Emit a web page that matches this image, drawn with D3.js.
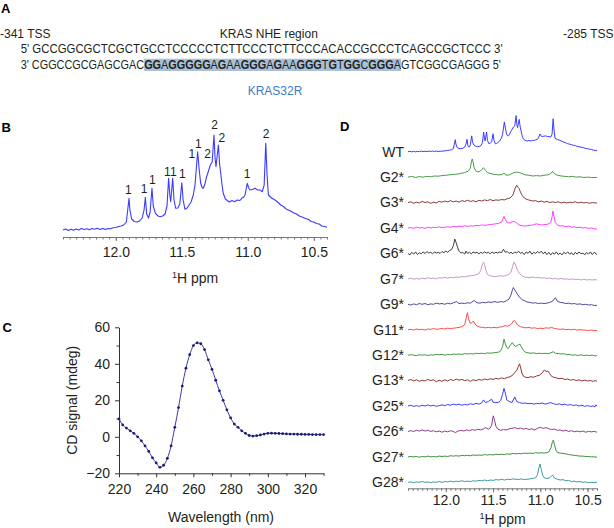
<!DOCTYPE html>
<html><head><meta charset="utf-8">
<script src="https://cdn.jsdelivr.net/npm/d3@7"></script>
<style>body{margin:0;background:#fff}svg{display:block}</style>
</head><body>
<script>
// ---------------- DATA ----------------
const seqTop = "GCCGGCGCTCGCTGCCTCCCCCTCTTCCCTCTTCCCACACCGCCCTCAGCCGCTCCC";
const seqBottom = "CGGCCGCGAGCGACGGAGGGGGAGAAGGGAGAAGGGTGTGGCGGGAGTCGGCGAGGG";
const probeStart = 14, probeLen = 32;
const headerLeft = "-341 TSS", headerMid = "KRAS NHE region", headerRight = "-285 TSS";
const probeName = "KRAS32R";

// Panel B: WT imino spectrum [ppm, intensity]
const wtSpectrum = [[12.40,0],[12.38,1],[12.36,-0.5],[12.34,0.8],[12.32,-0.3],[12.30,1],[12.28,0],[12.26,1.5],[12.24,0.5],[12.22,1.2],[12.20,0.3],[12.18,1.5],[12.16,0.8],[12.14,1.8],[12.12,0.6],[12.10,1.6],[12.08,0.4],[12.06,1.5],[12.04,1.2],[12.02,2.2],[12.00,2.5],[11.98,3.5],[11.96,4],[11.94,5],[11.92,8],[11.90,31.7],[11.893,20],[11.88,11],[11.86,8.5],[11.84,8],[11.82,9],[11.80,12],[11.786,20],[11.776,32.7],[11.766,16],[11.752,12],[11.74,18],[11.726,41.7],[11.716,24],[11.70,16.7],[11.68,14],[11.665,13.3],[11.645,14],[11.627,16],[11.612,24],[11.60,51.7],[11.59,34],[11.584,28.3],[11.569,51.7],[11.559,30],[11.546,21.7],[11.53,22],[11.515,26],[11.50,47.3],[11.49,30],[11.476,20.7],[11.46,22],[11.45,24],[11.43,28],[11.413,35],[11.40,45],[11.38,78.3],[11.368,60],[11.357,46.7],[11.345,42],[11.337,41.7],[11.325,46],[11.312,53.3],[11.30,58],[11.284,65],[11.27,68],[11.256,95],[11.248,72],[11.241,63.3],[11.223,85],[11.213,65],[11.205,56.7],[11.195,45],[11.186,36.7],[11.17,31],[11.16,30],[11.14,28],[11.12,29.5],[11.10,28.3],[11.08,30],[11.06,29.5],[11.046,31.7],[11.03,33],[11.021,35],[11.004,46.7],[10.993,42],[10.983,40],[10.965,40.5],[10.945,41.7],[10.925,40],[10.908,40],[10.89,38.3],[10.876,45],[10.864,86.7],[10.854,55],[10.844,35],[10.82,32],[10.794,30],[10.77,27.5],[10.75,25],[10.73,23.5],[10.71,21],[10.693,20],[10.67,18.5],[10.65,17],[10.63,16],[10.61,14],[10.59,13],[10.567,11.7],[10.54,10.5],[10.52,8.5],[10.50,8],[10.48,6.5],[10.46,6],[10.44,4],[10.42,3.5],[10.40,2.7]];

const bPeakLabels = ["1","1","1","1","1","1","1","1","2","2","2","1","2"];
const bPeakLabelPpm = [11.905,11.786,11.723,11.61,11.564,11.495,11.424,11.374,11.305,11.252,11.196,11.005,10.862];
const bPeakLabelLevel = [40,41,50,58.3,58.3,56,76,86.7,76,105,92.7,56.7,96];
const ppmTicks = [12.0, 11.5, 11.0, 10.5];

// Panel C: CD spectrum
const cdWavelength = [220,222,224,226,228,230,232,234,236,238,240,242,244,246,248,250,252,254,256,258,260,262,264,266,268,270,272,274,276,278,280,282,284,286,288,290,292,294,296,298,300,302,304,306,308,310,312,314,316,318,320,322,324,326,328,330];
const cdSignal = [9.8,6.5,4.8,3.3,1.9,0,-2.2,-5,-8,-11.5,-14.3,-16.7,-15.6,-11.8,-5,5.2,16,27.8,37.6,45,50,51.5,51,47.8,42.2,37,31,25.2,20,14.8,10.4,7,5.2,3.3,1.9,0.7,0.4,0.6,1,1.5,1.9,2,1.9,1.8,1.7,1.6,1.5,1.5,1.4,1.4,1.3,1.3,1.2,1.2,1.2,1.2];
const cdXTicks = [220,240,260,280,300,320];
const cdXMinor = [230,250,270,290,310,330];
const cdYTicks = [-20,0,20,40,60];
const cdYMinor = [-10,10,30,50];

// Panel D: mutant spectra
const dNames = ["WT","G2*","G3*","G4*","G6*","G7*","G9*","G11*","G12*","G13*","G25*","G26*","G27*","G28*"];
const dColors = ["#3b3bff","#4c9a4c","#8a3b3b","#ff3dff","#3a3a3a","#c49ac4","#4b4b9b","#ff4a4a","#3f9a3f","#8b3535","#3d3dff","#8d3d8d","#3f8f3f","#3e9b9b"];
const g2 = [[12.40,0],[12.36,2],[12.32,-1],[12.28,1.5],[12.24,0],[12.20,2],[12.16,1],[12.12,3],[12.08,2.5],[12.04,4],[12.00,5],[11.96,6],[11.92,7],[11.88,8],[11.84,10],[11.80,12],[11.76,16],[11.74,24],[11.73,40],[11.72,48],[11.71,38],[11.70,24],[11.68,16],[11.66,14],[11.64,15],[11.62,20],[11.60,24.6],[11.58,18],[11.56,12],[11.52,9],[11.48,7],[11.44,6],[11.40,7],[11.385,11],[11.37,6],[11.34,5],[11.31,8],[11.28,12],[11.25,13],[11.22,12],[11.19,9],[11.16,6],[11.12,5],[11.08,3],[11.04,4],[11.00,3],[10.96,5],[10.92,6],[10.89,9],[10.87,15],[10.85,9],[10.82,5],[10.78,3],[10.74,2],[10.70,1],[10.66,2],[10.62,0],[10.58,1],[10.54,-1],[10.50,0],[10.46,-1],[10.42,-1],[10.40,-1]];
const g3 = [[12.40,0],[12.37,2],[12.34,-2],[12.31,1],[12.28,-1],[12.25,3],[12.22,0],[12.19,2],[12.16,-2],[12.13,1],[12.10,-1],[12.07,3],[12.04,1],[12.01,4],[11.98,2],[11.95,5],[11.92,2],[11.89,4],[11.86,1],[11.83,5],[11.80,3],[11.77,6],[11.74,3],[11.71,5],[11.68,2],[11.65,6],[11.62,4],[11.59,7],[11.56,5],[11.53,8],[11.50,5],[11.47,7],[11.44,6],[11.41,8],[11.38,7],[11.35,10],[11.32,12],[11.29,20],[11.27,35],[11.25,45.6],[11.235,40],[11.225,37],[11.21,28],[11.19,18],[11.17,12],[11.14,8],[11.11,6],[11.08,4],[11.05,5],[11.02,2],[10.99,4],[10.96,1],[10.93,3],[10.90,0],[10.87,2],[10.84,0],[10.81,2],[10.78,-1],[10.75,1],[10.72,-1],[10.69,1],[10.66,0],[10.63,2],[10.60,-1],[10.57,1],[10.54,-1],[10.51,0],[10.48,-2],[10.45,0],[10.42,-1],[10.40,-1]];
const g4 = [[12.40,0],[12.37,1],[12.34,-1],[12.31,2],[12.28,0],[12.25,1],[12.22,-1],[12.19,2],[12.16,0],[12.13,2],[12.10,1],[12.07,3],[12.04,1],[12.01,2],[11.98,3],[11.95,2],[11.92,4],[11.89,3],[11.86,5],[11.83,4],[11.80,6],[11.77,4],[11.74,6],[11.71,5],[11.68,7],[11.65,6],[11.62,8],[11.59,7],[11.56,8],[11.53,9],[11.50,10],[11.47,11],[11.44,12],[11.41,16],[11.395,24],[11.384,30.7],[11.37,22],[11.35,14],[11.32,13],[11.30,16],[11.28,17.5],[11.26,15],[11.24,11],[11.215,7],[11.19,6],[11.16,5],[11.13,6],[11.10,7],[11.07,9],[11.04,11],[11.01,9],[10.98,8],[10.95,9],[10.92,10],[10.89,14],[10.875,30],[10.866,44.7],[10.855,30],[10.84,14],[10.82,8],[10.79,5],[10.76,6],[10.73,3],[10.70,5],[10.67,2],[10.64,3],[10.61,1],[10.58,2],[10.55,0],[10.52,1],[10.49,-1],[10.46,0],[10.43,-2],[10.40,-3]];
const g6 = [[12.40,0],[12.38,-4],[12.36,3],[12.34,-2],[12.32,4],[12.30,-3],[12.28,2],[12.26,-1],[12.24,4],[12.22,0],[12.20,5],[12.18,1],[12.16,3],[12.14,-1],[12.12,4],[12.10,1],[12.08,3],[12.06,0],[12.04,5],[12.02,2],[12.00,6],[11.98,3],[11.96,8],[11.94,10],[11.92,20],[11.905,37.7],[11.89,28],[11.875,16],[11.86,6],[11.84,1],[11.82,3],[11.80,-2],[11.786,6],[11.77,0],[11.75,3],[11.73,-1],[11.71,4],[11.69,1],[11.67,3],[11.65,-1],[11.63,3],[11.61,0],[11.59,4],[11.57,1],[11.55,3],[11.53,-1],[11.51,4],[11.49,0],[11.47,3],[11.45,1],[11.43,4],[11.41,2],[11.39,11],[11.37,3],[11.35,5],[11.33,0],[11.31,3],[11.29,-1],[11.27,4],[11.25,1],[11.23,6],[11.21,0],[11.19,3],[11.17,-3],[11.15,4],[11.13,0],[11.11,6],[11.09,-2],[11.07,3],[11.05,0],[11.03,5],[11.01,1],[10.99,6],[10.97,-1],[10.95,4],[10.93,-3],[10.91,3],[10.89,-4],[10.87,2],[10.85,-2],[10.83,4],[10.81,-3],[10.79,1],[10.77,-4],[10.75,3],[10.73,-1],[10.71,4],[10.69,-2],[10.67,2],[10.65,-4],[10.63,3],[10.61,-2],[10.59,4],[10.57,-1],[10.55,1],[10.53,-4],[10.51,3],[10.49,-2],[10.47,4],[10.45,-3],[10.43,3],[10.41,-1],[10.40,-3]];
const g7 = [[12.40,0],[12.37,2],[12.34,-1],[12.31,1],[12.28,-1],[12.25,2],[12.22,0],[12.19,3],[12.16,1],[12.13,2],[12.10,0],[12.07,3],[12.04,2],[12.01,4],[11.98,2],[11.95,4],[11.92,3],[11.89,5],[11.86,4],[11.83,6],[11.80,5],[11.77,7],[11.74,8],[11.71,9],[11.68,11],[11.65,14],[11.63,22],[11.61,40],[11.60,44],[11.59,38],[11.575,22],[11.56,12],[11.54,9],[11.51,7],[11.48,6],[11.45,7],[11.42,8],[11.39,7],[11.36,9],[11.33,12],[11.31,18],[11.295,30],[11.28,44],[11.27,42],[11.255,32],[11.24,22],[11.22,14],[11.20,9],[11.17,5],[11.14,4],[11.11,3],[11.08,5],[11.05,3],[11.02,4],[10.99,2],[10.96,3],[10.93,1],[10.90,2],[10.87,0],[10.84,1],[10.81,-1],[10.78,1],[10.75,-1],[10.72,0],[10.69,-2],[10.66,0],[10.63,-2],[10.60,-1],[10.57,-3],[10.54,-1],[10.51,-3],[10.48,-2],[10.45,-3],[10.42,-2],[10.40,-3]];
const g9 = [[12.40,0],[12.37,-2],[12.34,1],[12.31,-1],[12.28,2],[12.25,0],[12.22,2],[12.19,-1],[12.16,1],[12.13,0],[12.10,3],[12.07,1],[12.04,2],[12.01,0],[11.98,3],[11.95,1],[11.92,4],[11.885,7],[11.86,2],[11.83,3],[11.80,2],[11.77,4],[11.74,3],[11.70,10],[11.67,4],[11.64,3],[11.61,5],[11.58,4],[11.55,6],[11.52,5],[11.48,7],[11.45,5],[11.42,7],[11.39,6],[11.36,9],[11.33,14],[11.31,25],[11.295,38],[11.285,44],[11.27,38],[11.25,30],[11.23,22],[11.21,16],[11.19,12],[11.17,10],[11.14,6],[11.11,5],[11.08,3],[11.05,4],[11.02,2],[10.99,3],[10.96,2],[10.93,3],[10.90,5],[10.87,8],[10.84,17.5],[10.82,8],[10.79,5],[10.76,4],[10.73,2],[10.70,3],[10.67,1],[10.64,2],[10.61,0],[10.58,1],[10.55,-1],[10.52,0],[10.49,-2],[10.46,-1],[10.43,-3],[10.40,-3]];
const g11 = [[12.40,0],[12.37,1],[12.34,-1],[12.31,2],[12.28,0],[12.25,1],[12.22,-1],[12.19,2],[12.16,1],[12.13,3],[12.10,1],[12.07,2],[12.04,3],[12.01,2],[11.98,4],[11.95,3],[11.92,4],[11.89,5],[11.86,6],[11.83,8],[11.80,13],[11.785,30],[11.772,44.7],[11.76,30],[11.745,18],[11.73,17],[11.709,22.8],[11.69,15],[11.67,10],[11.64,7],[11.61,6],[11.58,5],[11.55,6],[11.52,5],[11.49,6],[11.46,5],[11.43,7],[11.40,8],[11.373,11],[11.35,9],[11.32,12],[11.30,17],[11.285,23],[11.275,24.6],[11.26,20],[11.24,12],[11.21,8],[11.18,6],[11.15,5],[11.12,6],[11.09,4],[11.06,5],[11.03,3],[11.00,4],[10.97,3],[10.94,5],[10.91,4],[10.88,6],[10.85,3],[10.82,2],[10.79,1],[10.76,2],[10.73,0],[10.70,1],[10.67,0],[10.64,1],[10.61,-1],[10.58,0],[10.55,-1],[10.52,-1],[10.49,-2],[10.46,-1],[10.43,-2],[10.40,-2]];
const g12 = [[12.40,0],[12.37,1],[12.34,0],[12.31,-1],[12.28,1],[12.25,0],[12.22,1],[12.19,-1],[12.16,1],[12.13,0],[12.10,2],[12.07,1],[12.04,2],[12.01,0],[11.98,2],[11.95,1],[11.92,3],[11.89,2],[11.86,3],[11.83,2],[11.80,4],[11.77,3],[11.74,4],[11.71,3],[11.68,5],[11.65,4],[11.62,5],[11.59,4],[11.56,6],[11.53,5],[11.50,6],[11.47,7],[11.44,8],[11.42,11],[11.40,22],[11.384,42],[11.37,30],[11.355,20],[11.34,17],[11.32,25],[11.296,33],[11.28,27],[11.26,23],[11.24,26],[11.215,29],[11.20,22],[11.18,13],[11.16,8],[11.13,6],[11.10,5],[11.07,6],[11.04,4],[11.01,5],[10.98,4],[10.95,5],[10.92,4],[10.89,6],[10.862,9],[10.84,5],[10.81,4],[10.78,3],[10.75,4],[10.72,1],[10.69,2],[10.66,0],[10.63,1],[10.60,-1],[10.57,1],[10.54,-1],[10.51,0],[10.48,-1],[10.45,0],[10.42,-2],[10.40,-1]];
const g13 = [[12.40,0],[12.37,3],[12.34,-1],[12.31,2],[12.28,-2],[12.25,1],[12.22,-1],[12.19,3],[12.16,0],[12.13,2],[12.10,-3],[12.07,1],[12.04,-2],[12.01,2],[11.98,-1],[11.95,3],[11.92,0],[11.89,4],[11.86,1],[11.83,3],[11.80,0],[11.77,2],[11.74,-2],[11.71,2],[11.68,0],[11.65,3],[11.62,1],[11.59,4],[11.56,2],[11.53,5],[11.50,3],[11.47,6],[11.44,4],[11.41,7],[11.38,5],[11.35,8],[11.32,10],[11.29,15],[11.268,22],[11.25,26],[11.235,35],[11.22,44],[11.21,36],[11.195,20],[11.18,12],[11.16,9],[11.13,8],[11.10,10],[11.07,9],[11.04,12],[11.01,14],[10.98,20],[10.957,28],[10.94,24],[10.92,25],[10.90,18],[10.88,11],[10.86,9],[10.83,7],[10.80,5],[10.77,6],[10.74,3],[10.71,4],[10.68,1],[10.65,3],[10.62,0],[10.59,2],[10.56,-1],[10.53,1],[10.50,-1],[10.47,0],[10.44,-2],[10.42,0],[10.40,-2]];
const g25 = [[12.40,0],[12.37,2],[12.34,-1],[12.31,1],[12.28,-1],[12.25,2],[12.22,0],[12.19,3],[12.16,0],[12.13,2],[12.10,-1],[12.07,1],[12.04,3],[12.01,1],[11.98,4],[11.95,2],[11.92,5],[11.89,3],[11.86,5],[11.83,2],[11.80,4],[11.77,3],[11.74,6],[11.71,4],[11.68,7],[11.65,5],[11.62,8],[11.60,16],[11.58,9],[11.55,12],[11.515,18],[11.50,10],[11.47,9],[11.44,10],[11.42,14],[11.40,30],[11.384,46.5],[11.37,34],[11.355,16],[11.33,12],[11.30,9],[11.27,24],[11.25,12],[11.22,9],[11.19,7],[11.16,8],[11.13,6],[11.10,7],[11.07,5],[11.04,7],[11.01,6],[10.98,8],[10.95,5],[10.92,7],[10.89,9],[10.86,6],[10.83,4],[10.80,6],[10.77,3],[10.74,5],[10.71,2],[10.68,4],[10.65,1],[10.62,3],[10.59,0],[10.56,2],[10.53,-1],[10.50,1],[10.47,-1],[10.44,0],[10.42,-2],[10.41,3],[10.40,0]];
const g26 = [[12.40,0],[12.37,2],[12.34,0],[12.31,3],[12.28,1],[12.25,4],[12.22,1],[12.19,3],[12.16,0],[12.13,2],[12.10,-1],[12.07,1],[12.04,-2],[12.01,1],[11.98,-1],[11.95,2],[11.92,0],[11.90,-3],[11.87,1],[11.84,3],[11.81,1],[11.78,4],[11.75,2],[11.72,5],[11.69,3],[11.66,6],[11.63,4],[11.60,7],[11.58,10],[11.55,6],[11.53,9],[11.515,16],[11.505,33],[11.497,41],[11.485,30],[11.47,14],[11.45,6],[11.42,3],[11.39,5],[11.36,4],[11.33,7],[11.30,8],[11.27,10],[11.24,7],[11.21,9],[11.18,6],[11.15,8],[11.12,5],[11.09,7],[11.06,4],[11.03,8],[11.00,11],[10.97,8],[10.94,10],[10.91,7],[10.88,5],[10.85,6],[10.82,3],[10.79,4],[10.76,1],[10.73,3],[10.70,0],[10.67,2],[10.64,-1],[10.61,1],[10.58,-1],[10.55,1],[10.52,-2],[10.49,0],[10.46,-1],[10.43,0],[10.40,-2]];
const g27 = [[12.40,0],[12.37,1],[12.34,0],[12.31,1],[12.28,-1],[12.25,1],[12.22,0],[12.19,2],[12.16,0],[12.13,1],[12.10,0],[12.07,2],[12.04,1],[12.01,2],[11.98,1],[11.95,3],[11.92,2],[11.89,3],[11.86,2],[11.83,4],[11.80,3],[11.77,4],[11.74,3],[11.71,5],[11.68,4],[11.65,5],[11.62,4],[11.59,6],[11.56,5],[11.53,6],[11.50,5],[11.47,7],[11.44,6],[11.41,7],[11.38,6],[11.35,8],[11.32,7],[11.29,9],[11.26,8],[11.23,9],[11.20,8],[11.17,10],[11.14,9],[11.11,10],[11.08,9],[11.05,11],[11.02,10],[10.99,11],[10.96,10],[10.93,11],[10.91,13],[10.885,25],[10.872,40],[10.862,44],[10.85,32],[10.835,18],[10.82,12],[10.79,10],[10.76,9],[10.73,8],[10.70,6],[10.67,5],[10.64,4],[10.61,3],[10.58,2],[10.55,2],[10.52,1],[10.49,1],[10.46,0],[10.43,0],[10.40,-1]];
const g28 = [[12.40,0],[12.37,1],[12.34,-1],[12.31,1],[12.28,0],[12.25,2],[12.22,0],[12.19,1],[12.16,-1],[12.13,1],[12.10,0],[12.07,2],[12.04,0],[12.01,2],[11.98,1],[11.95,3],[11.92,1],[11.89,3],[11.86,2],[11.83,4],[11.80,2],[11.77,3],[11.74,2],[11.71,4],[11.68,3],[11.65,5],[11.62,4],[11.59,6],[11.56,4],[11.53,6],[11.50,5],[11.47,7],[11.44,6],[11.41,8],[11.38,6],[11.35,8],[11.32,7],[11.29,9],[11.26,8],[11.23,7],[11.20,9],[11.17,7],[11.14,8],[11.11,9],[11.08,10],[11.05,12],[11.03,20],[11.015,38],[11.003,48],[10.99,34],[10.975,18],[10.96,12],[10.93,10],[10.90,12],[10.87,19],[10.85,11],[10.82,8],[10.79,6],[10.76,7],[10.73,4],[10.70,5],[10.67,2],[10.64,3],[10.61,1],[10.58,2],[10.55,0],[10.52,1],[10.49,-1],[10.46,0],[10.43,-1],[10.40,0]];
const dSpectra = [wtSpectrum, g2, g3, g4, g6, g7, g9, g11, g12, g13, g25, g26, g27, g28];

// ---------------- DRAW ----------------
const FONT = "'Liberation Sans', Arial, Helvetica, sans-serif";
const TXT = "#231f20";
const svg = d3.select("body").append("svg").attr("width", 614).attr("height", 528)
  .style("font-family", FONT);
svg.append("rect").attr("width", 614).attr("height", 528).attr("fill", "#fff");

function panelLabel(t, x, y) {
  svg.append("text").attr("x", x).attr("y", y).text(t)
    .attr("font-size", 13).attr("font-weight", "bold").attr("fill", "#000");
}
panelLabel("A", 1, 13.3);
panelLabel("B", 1.5, 132);
panelLabel("C", 2.5, 332);
panelLabel("D", 340, 131);

// ---- Panel A ----
svg.append("text").attr("x", 0).attr("y", 38.3).attr("font-size", 12).attr("fill", TXT).text(headerLeft);
svg.append("text").attr("x", 268.8).attr("y", 38.3).attr("font-size", 12).attr("fill", TXT)
  .attr("text-anchor", "middle").text(headerMid);
svg.append("text").attr("x", 613.5).attr("y", 38.3).attr("font-size", 12).attr("fill", TXT)
  .attr("text-anchor", "end").text(headerRight);

function fitGroup(g, textSel, x0, y0, targetW) {
  const w = textSel.node().getComputedTextLength();
  g.attr("transform", `translate(${x0},${y0}) scale(${targetW / w},1)`);
}
const l1 = svg.append("g");
const t1 = l1.append("text").attr("font-size", 12).attr("fill", TXT).text("5' " + seqTop + " 3'");
fitGroup(l1, t1, 20.7, 52.7, 482.6);

const l2 = svg.append("g");
const hl = l2.append("rect").attr("fill", "#a9c0d6");
const t2 = l2.append("text").attr("font-size", 12).attr("fill", TXT);
t2.append("tspan").text("3' " + seqBottom.slice(0, probeStart));
const probe = seqBottom.slice(probeStart, probeStart + probeLen);
// group runs of G (bold) and non-G (normal)
let runs = [];
for (const ch of probe) {
  const b = ch === "G";
  if (runs.length && runs[runs.length - 1].b === b) runs[runs.length - 1].s += ch;
  else runs.push({ b, s: ch });
}
runs.forEach(r => t2.append("tspan").attr("font-weight", r.b ? "bold" : "normal").text(r.s));
t2.append("tspan").text(seqBottom.slice(probeStart + probeLen) + " 5'");
fitGroup(l2, t2, 20.7, 69, 481);
const ps = t2.node().getStartPositionOfChar(3 + probeStart).x;
const pe = t2.node().getEndPositionOfChar(3 + probeStart + probeLen - 1).x;
hl.attr("x", ps).attr("width", pe - ps).attr("y", -10.3).attr("height", 12.3);

svg.append("text").attr("x", 275).attr("y", 95).attr("font-size", 12).attr("fill", "#3d7cc9")
  .attr("text-anchor", "middle").text(probeName);

// ---- common axis helper for ppm ----
function ppmAxis(scale, y, pad) {
  const g = svg.append("g").attr("transform", `translate(0,${y})`);
  const minor = d3.range(208, 249).map(i => i / 20);
  g.append("g").call(d3.axisBottom(scale).tickValues(minor).tickFormat("").tickSize(2.5).tickSizeOuter(0))
    .call(s => s.selectAll("line").attr("stroke", "#777"))
    .call(s => s.select(".domain").attr("stroke", "#777"));
  g.append("g").call(d3.axisBottom(scale).tickValues(ppmTicks).tickFormat(d3.format(".1f")).tickSize(4).tickSizeOuter(0).tickPadding(pad))
    .call(s => s.select(".domain").remove())
    .call(s => s.selectAll("line").attr("stroke", "#777"))
    .call(s => s.selectAll("text").attr("font-size", 14).attr("fill", TXT).attr("font-family", FONT));
}
function ppmTitle(x, y) {
  const t = svg.append("text").attr("x", x).attr("y", y).attr("text-anchor", "middle")
    .attr("font-size", 14).attr("fill", TXT);
  t.append("tspan").attr("font-size", 9).attr("dy", -5).text("1");
  t.append("tspan").attr("dy", 5).text("H ppm");
}

// ---- Panel B ----
const xB = d3.scaleLinear().domain([12.4, 10.4]).range([63, 327]);
const yB = d3.scaleLinear().domain([0, 100]).range([230, 130]);
svg.append("path").datum(wtSpectrum)
  .attr("d", d3.line().x(d => xB(d[0])).y(d => yB(d[1])))
  .attr("fill", "none").attr("stroke", "#3b3bff").attr("stroke-width", 1.1).attr("stroke-linejoin", "round");
svg.append("g").selectAll("text").data(bPeakLabels).join("text")
  .attr("x", (d, i) => xB(bPeakLabelPpm[i])).attr("y", (d, i) => yB(bPeakLabelLevel[i]))
  .attr("dy", "0.36em").attr("text-anchor", "middle").attr("font-size", 12).attr("fill", TXT).text(d => d);
ppmAxis(xB, 237, 6);
ppmTitle(195, 283);

// ---- Panel C ----
const xC = d3.scaleLinear().domain([220, 330]).range([119, 323.6]);
const yC = d3.scaleLinear().domain([-20, 60]).range([473.3, 327.3]);
const gcx = svg.append("g").attr("transform", `translate(0,${yC(-20)})`);
gcx.append("g").call(d3.axisBottom(xC).tickValues(cdXMinor).tickFormat("").tickSize(2.5).tickSizeOuter(0))
  .call(s => s.selectAll("line,.domain").attr("stroke", "#333"));
gcx.append("g").call(d3.axisBottom(xC).tickValues(cdXTicks).tickSize(4).tickSizeOuter(0).tickPadding(6.7))
  .call(s => s.select(".domain").remove())
  .call(s => s.selectAll("line").attr("stroke", "#333"))
  .call(s => s.selectAll("text").attr("font-size", 14).attr("fill", TXT).attr("font-family", FONT));
const gcy = svg.append("g").attr("transform", `translate(${xC(220)},0)`);
gcy.append("g").call(d3.axisLeft(yC).tickValues(cdYMinor).tickFormat("").tickSize(2.5).tickSizeOuter(0))
  .call(s => s.selectAll("line,.domain").attr("stroke", "#333"));
gcy.append("g").call(d3.axisLeft(yC).tickValues(cdYTicks).tickSize(4).tickSizeOuter(0).tickPadding(5))
  .call(s => s.select(".domain").remove())
  .call(s => s.selectAll("line").attr("stroke", "#333"))
  .call(s => s.selectAll("text").attr("font-size", 14).attr("fill", TXT).attr("font-family", FONT));
const cdPts = cdWavelength.map((w, i) => [w, cdSignal[i]]);
svg.append("path").datum(cdPts)
  .attr("d", d3.line().curve(d3.curveMonotoneX).x(d => xC(d[0])).y(d => yC(d[1])))
  .attr("fill", "none").attr("stroke", "#3b3ba6").attr("stroke-width", 1);
svg.append("g").selectAll("circle").data(cdPts).join("circle")
  .attr("cx", d => xC(d[0])).attr("cy", d => yC(d[1])).attr("r", 1.4).attr("fill", "#1c1c70");
svg.append("text").attr("x", 221).attr("y", 521.5).attr("text-anchor", "middle")
  .attr("font-size", 14).attr("fill", TXT).text("Wavelength (nm)");
svg.append("text").attr("transform", `translate(77,400.3) rotate(-90)`).attr("text-anchor", "middle")
  .attr("font-size", 14).attr("fill", TXT).text("CD signal (mdeg)");

// ---- Panel D ----
const xD = d3.scaleLinear().domain([12.4, 10.4]).range([408, 597]);
const rowY = d3.scalePoint().domain(dNames).range([151.7, 482.3]);
const yD = d3.scaleLinear().domain([0, 100]).range([0, -38]);
const lineD = d3.line().x(d => xD(d[0])).y(d => yD(d[1]));
dNames.forEach((name, i) => {
  const g = svg.append("g").attr("transform", `translate(0,${rowY(name)})`);
  g.append("path").datum(dSpectra[i]).attr("d", lineD)
    .attr("fill", "none").attr("stroke", dColors[i]).attr("stroke-width", 1).attr("stroke-linejoin", "round");
  g.append("text").attr("x", 404).attr("y", 0).attr("dy", "0.35em").attr("text-anchor", "end")
    .attr("font-size", 14).attr("fill", TXT).text(name);
});
ppmAxis(xD, 488.3, 3);
ppmTitle(502.5, 524);
</script>
</body></html>
